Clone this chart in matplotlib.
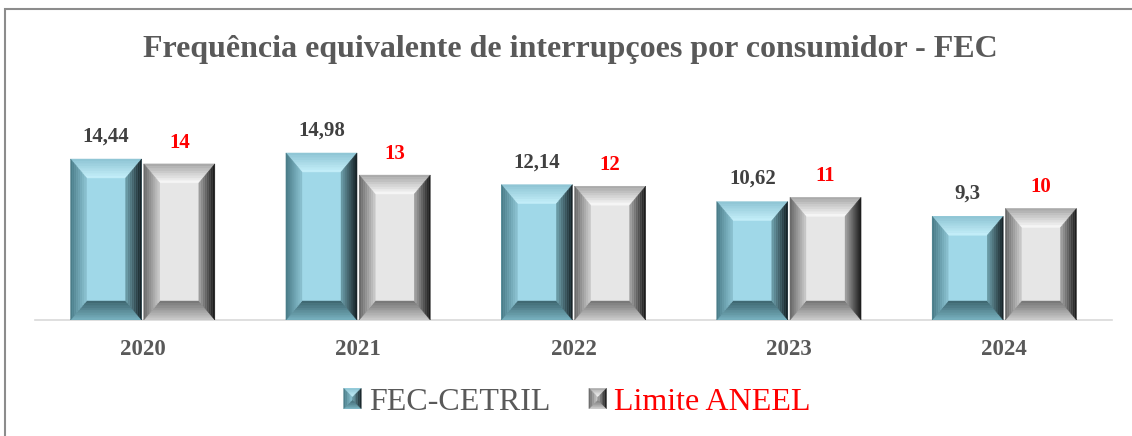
import numpy as np
import matplotlib
matplotlib.use("Agg")
import matplotlib.pyplot as plt
from matplotlib.patches import Polygon, Rectangle
from matplotlib.legend_handler import HandlerBase

# data
years = ["2020", "2021", "2022", "2023", "2024"]
fec_cetril = [14.44, 14.98, 12.14, 10.62, 9.3]
limite_aneel = [14, 13, 12, 11, 10]
series_names = ["FEC-CETRIL", "Limite ANEEL"]

# bevel palettes: face, then (outer, inner) for top, left, right, bottom
BLUE = {"face": (160, 216, 232),
        "top": ((140, 195, 210), (198, 240, 250)),
        "left": ((70, 120, 132), (140, 195, 210)),
        "right": ((18, 28, 32), (110, 160, 172)),
        "bottom": ((120, 178, 192), (60, 100, 110))}
GRAY = {"face": (230, 230, 230),
        "top": ((165, 165, 165), (250, 250, 250)),
        "left": ((100, 100, 100), (205, 205, 205)),
        "right": ((20, 20, 20), (165, 165, 165)),
        "bottom": ((205, 205, 205), (115, 115, 115))}


def rgb(c):
    return tuple(v / 255 for v in c)


def bevel_polys(x0, y0, x1, y1, bx, by, pal, n=8):
    # returns list of (xy, color) strips between nested rectangles
    out = []
    for k in range(n):
        t0, t1 = k / n, (k + 1) / n
        tm = (t0 + t1) / 2
        a = (x0 + t0 * bx, y0 + t0 * by, x1 - t0 * bx, y1 - t0 * by)
        b = (x0 + t1 * bx, y0 + t1 * by, x1 - t1 * bx, y1 - t1 * by)
        sides = {
            "top": [(a[0], a[3]), (a[2], a[3]), (b[2], b[3]), (b[0], b[3])],
            "bottom": [(a[0], a[1]), (a[2], a[1]), (b[2], b[1]), (b[0], b[1])],
            "left": [(a[0], a[1]), (a[0], a[3]), (b[0], b[3]), (b[0], b[1])],
            "right": [(a[2], a[1]), (a[2], a[3]), (b[2], b[3]), (b[2], b[1])],
        }
        for side, xy in sides.items():
            c_out, c_in = pal[side]
            col = tuple((c_out[i] + (c_in[i] - c_out[i]) * tm) / 255 for i in range(3))
            out.append((xy, col))
    return out


class BevelHandler(HandlerBase):
    def __init__(self, pal):
        super().__init__()
        self.pal = pal

    def create_artists(self, legend, orig_handle, xdescent, ydescent,
                       width, height, fontsize, trans):
        s = min(width, height * 1.1)
        x0, y0 = -xdescent + (width - s) / 2, -ydescent + (height - s * 1.15) / 2
        x1, y1 = x0 + s, y0 + s * 1.15
        arts = [Rectangle((x0, y0), s, s * 1.15, facecolor=rgb(self.pal["face"]),
                          edgecolor="none", transform=trans)]
        for xy, col in bevel_polys(x0, y0, x1, y1, s * 0.5, s * 0.5, self.pal, n=5):
            arts.append(Polygon(xy, closed=True, facecolor=col, edgecolor=col,
                                linewidth=0.3, transform=trans))
        return arts


W, H = 1132, 436
fig = plt.figure(figsize=(W / 100, H / 100), dpi=100)
plt.rcParams["font.family"] = ["Liberation Serif", "DejaVu Serif"]

# outer frame
fig.patches.append(Rectangle((5 / W, -0.2), 1.2, 0.2 + (H - 9) / H,
                             transform=fig.transFigure, fill=False,
                             edgecolor="#8c8c8c", linewidth=1.5))

ax = fig.add_axes([35 / W, (H - 320) / H, 1077 / W, 223 / H])
ax.set_xlim(-0.5, len(years) - 0.5)
ax.set_ylim(0, 20)

x = np.arange(len(years))
w = 0.33
b1 = ax.bar(x - 0.17, fec_cetril, w, color=rgb(BLUE["face"]), edgecolor="none")
b2 = ax.bar(x + 0.17, limite_aneel, w, color=rgb(GRAY["face"]), edgecolor="none")

# bevel overlays computed in pixel space
inv = ax.transData.inverted()
for bars, pal in ((b1, BLUE), (b2, GRAY)):
    for p in bars:
        (px0, py0), (px1, py1) = ax.transData.transform(
            [(p.get_x(), 0), (p.get_x() + p.get_width(), p.get_height())])
        for xy, col in bevel_polys(px0, py0, px1, py1, 16, 19, pal):
            ax.add_patch(Polygon(inv.transform(xy), closed=True, facecolor=col,
                                 edgecolor=col, linewidth=0.3, zorder=3))

ax.bar_label(b1, labels=[str(v).replace(".", ",") for v in fec_cetril], padding=9,
             fontsize=15, fontweight="bold", color="#404040")
ax.bar_label(b2, labels=[str(v) for v in limite_aneel], padding=8,
             fontsize=15, fontweight="bold", color="red")

for s in ("top", "left", "right"):
    ax.spines[s].set_visible(False)
ax.spines["bottom"].set_color("#d9d9d9")
ax.spines["bottom"].set_linewidth(1.2)
ax.set_yticks([])
ax.set_xticks(x)
ax.set_xticklabels(years, fontsize=16.5, fontweight="bold", color="#595959")
ax.tick_params(axis="x", length=0, pad=14)

fig.text(0.504, 1 - 50 / H, "Frequência equivalente de interrupçoes por consumidor - FEC",
         ha="center", va="center", fontsize=23, fontweight="bold", color="#595959")

h1 = Rectangle((0, 0), 1, 1)
h2 = Rectangle((0, 0), 1, 1)
leg = fig.legend([h1, h2], series_names, loc="center", bbox_to_anchor=(0.51, 1 - 402 / H),
                 ncol=2, frameon=False, fontsize=23, handlelength=0.55,
                 handleheight=0.7, handletextpad=0.25, columnspacing=1.2,
                 handler_map={h1: BevelHandler(BLUE), h2: BevelHandler(GRAY)})
leg.get_texts()[0].set_color("#595959")
leg.get_texts()[1].set_color("red")

fig.savefig("out.png", dpi=100)
